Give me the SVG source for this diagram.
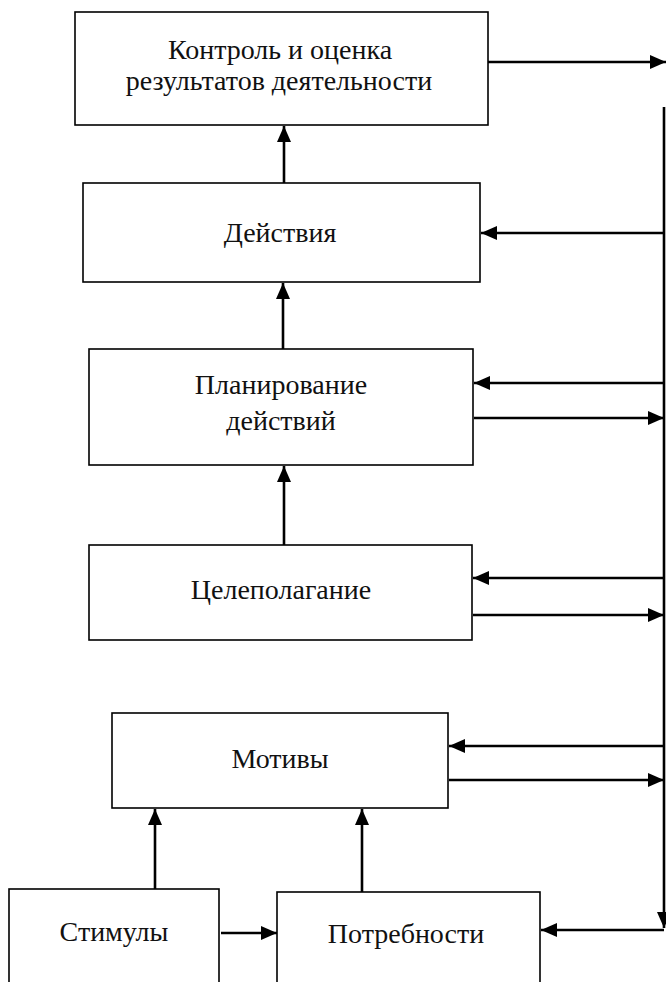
<svg xmlns="http://www.w3.org/2000/svg" width="666" height="982" viewBox="0 0 666 982">
<style>
.box{fill:#fff;stroke:#000;stroke-width:1.6}
.t{font-family:"Liberation Serif","Times New Roman",serif;font-size:28px;fill:#111;text-anchor:middle}
.c{fill:none;stroke:#000;stroke-width:2.6}
</style>
<defs>
<marker id="a" markerUnits="userSpaceOnUse" markerWidth="16" markerHeight="16" viewBox="0 0 16 16" refX="16" refY="8" orient="auto">
<path d="M0,1 L16,8 L0,15 Z" fill="#000"/>
</marker>
</defs>
<rect width="666" height="982" fill="#fff"/>
<g id="n1"><rect class="box" x="75" y="12" width="413" height="113"/>
<text class="t" x="280" y="59">Контроль и оценка</text>
<text class="t" x="279" y="90">результатов деятельности</text></g>
<g id="n2"><rect class="box" x="83" y="183" width="397" height="99"/>
<text class="t" x="280" y="242">Действия</text></g>
<g id="n3"><rect class="box" x="89" y="349" width="384" height="116"/>
<text class="t" x="281" y="394">Планирование</text>
<text class="t" x="281" y="430">действий</text></g>
<g id="n4"><rect class="box" x="89" y="545" width="383" height="95"/>
<text class="t" x="281" y="599">Целеполагание</text></g>
<g id="n5"><rect class="box" x="112" y="713" width="336" height="95"/>
<text class="t" x="280" y="768">Мотивы</text></g>
<g id="n6"><rect class="box" x="9" y="889" width="210" height="110"/>
<text class="t" x="114" y="941">Стимулы</text></g>
<g id="n7"><rect class="box" x="277" y="892" width="263" height="110"/>
<text class="t" x="406" y="943">Потребности</text></g>
<g id="connectors">
<line class="c" x1="488" y1="62" x2="666" y2="62" marker-end="url(#a)"/>
<line class="c" x1="664" y1="107" x2="664" y2="928" marker-end="url(#a)"/>
<line class="c" x1="664" y1="233" x2="481" y2="233" marker-end="url(#a)"/>
<line class="c" x1="664" y1="383" x2="474" y2="383" marker-end="url(#a)"/>
<line class="c" x1="474" y1="418" x2="664" y2="418" marker-end="url(#a)"/>
<line class="c" x1="664" y1="578" x2="473" y2="578" marker-end="url(#a)"/>
<line class="c" x1="473" y1="615" x2="664" y2="615" marker-end="url(#a)"/>
<line class="c" x1="664" y1="746" x2="449" y2="746" marker-end="url(#a)"/>
<line class="c" x1="449" y1="780" x2="664" y2="780" marker-end="url(#a)"/>
<line class="c" x1="664" y1="930" x2="541" y2="930" marker-end="url(#a)"/>
<line class="c" x1="221" y1="933" x2="277" y2="933" marker-end="url(#a)"/>
<line class="c" x1="284" y1="183" x2="284" y2="126" marker-end="url(#a)"/>
<line class="c" x1="283" y1="349" x2="283" y2="283" marker-end="url(#a)"/>
<line class="c" x1="284" y1="545" x2="284" y2="466" marker-end="url(#a)"/>
<line class="c" x1="155" y1="889" x2="155" y2="809" marker-end="url(#a)"/>
<line class="c" x1="362" y1="892" x2="362" y2="809" marker-end="url(#a)"/>
</g>
</svg>
